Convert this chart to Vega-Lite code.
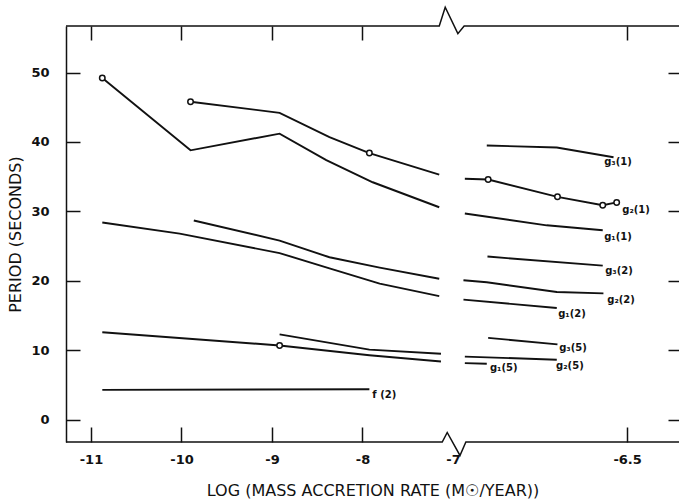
{
  "$schema": "https://vega.github.io/schema/vega-lite/v6.json",
  "width": 613,
  "height": 416,
  "autosize": "none",
  "padding": {"left": 66, "top": 26, "right": 0, "bottom": 59},
  "background": "white",
  "config": {
    "view": {"stroke": null},
    "axis": {
      "grid": false,
      "labelFont": "DejaVu Sans",
      "labelFontWeight": "bold",
      "labelFontSize": 13,
      "labelColor": "#111",
      "titleFont": "DejaVu Sans",
      "titleFontWeight": "normal",
      "titleColor": "#111",
      "tickColor": "#111",
      "domainColor": "#111",
      "tickWidth": 1.5,
      "domainWidth": 1.5
    }
  },
  "datasets": {
    "curves": [
      {"s": "A", "x": -10.875, "y": 49.2}, {"s": "A", "x": -9.9, "y": 38.8}, {"s": "A", "x": -8.916, "y": 41.2}, {"s": "A", "x": -8.4, "y": 37.4}, {"s": "A", "x": -7.887, "y": 34.2}, {"s": "A", "x": -7.152, "y": 30.6},
      {"s": "B", "x": -9.9, "y": 45.8}, {"s": "B", "x": -8.916, "y": 44.2}, {"s": "B", "x": -8.365, "y": 40.7}, {"s": "B", "x": -7.924, "y": 38.4}, {"s": "B", "x": -7.152, "y": 35.3},
      {"s": "C", "x": -10.875, "y": 28.4}, {"s": "C", "x": -10.02, "y": 26.8}, {"s": "C", "x": -8.916, "y": 24.0}, {"s": "C", "x": -8.365, "y": 21.8}, {"s": "C", "x": -7.81, "y": 19.6}, {"s": "C", "x": -7.152, "y": 17.8},
      {"s": "D", "x": -9.864, "y": 28.7}, {"s": "D", "x": -8.916, "y": 25.8}, {"s": "D", "x": -8.365, "y": 23.4}, {"s": "D", "x": -7.81, "y": 21.9}, {"s": "D", "x": -7.152, "y": 20.3},
      {"s": "E", "x": -10.875, "y": 12.6}, {"s": "E", "x": -8.916, "y": 10.7}, {"s": "E", "x": -7.924, "y": 9.3}, {"s": "E", "x": -7.133, "y": 8.4},
      {"s": "F", "x": -8.916, "y": 12.3}, {"s": "F", "x": -7.924, "y": 10.1}, {"s": "F", "x": -7.133, "y": 9.5},
      {"s": "f2", "x": -10.875, "y": 4.3}, {"s": "f2", "x": -7.924, "y": 4.4},
      {"s": "g3_1", "x": -6.903, "y": 39.5}, {"s": "g3_1", "x": -6.702, "y": 39.2}, {"s": "g3_1", "x": -6.539, "y": 37.8},
      {"s": "g2_1", "x": -6.966, "y": 34.7}, {"s": "g2_1", "x": -6.899, "y": 34.6}, {"s": "g2_1", "x": -6.7, "y": 32.1}, {"s": "g2_1", "x": -6.57, "y": 30.9}, {"s": "g2_1", "x": -6.53, "y": 31.3},
      {"s": "g1_1", "x": -6.966, "y": 29.7}, {"s": "g1_1", "x": -6.731, "y": 28.0}, {"s": "g1_1", "x": -6.57, "y": 27.3},
      {"s": "g3_2", "x": -6.901, "y": 23.5}, {"s": "g3_2", "x": -6.57, "y": 22.2},
      {"s": "g2_2", "x": -6.97, "y": 20.1}, {"s": "g2_2", "x": -6.903, "y": 19.8}, {"s": "g2_2", "x": -6.702, "y": 18.4}, {"s": "g2_2", "x": -6.568, "y": 18.2},
      {"s": "g1_2", "x": -6.97, "y": 17.3}, {"s": "g1_2", "x": -6.702, "y": 16.1},
      {"s": "g3_5", "x": -6.899, "y": 11.8}, {"s": "g3_5", "x": -6.7, "y": 10.85},
      {"s": "g2_5", "x": -6.966, "y": 9.1}, {"s": "g2_5", "x": -6.702, "y": 8.65},
      {"s": "g1_5", "x": -6.966, "y": 8.15}, {"s": "g1_5", "x": -6.903, "y": 8.07}
    ],
    "circles": [
      {"x": -10.875, "y": 49.2}, {"x": -9.9, "y": 45.8}, {"x": -7.924, "y": 38.4}, {"x": -8.916, "y": 10.7},
      {"x": -6.899, "y": 34.6}, {"x": -6.7, "y": 32.1}, {"x": -6.57, "y": 30.9}, {"x": -6.53, "y": 31.3}
    ],
    "frame": [
      {"side": "bottom", "x": -11.276, "y": -3.2}, {"side": "bottom", "x": -7.119, "y": -3.2}, {"side": "bottom", "x": -7.064, "y": -1.83}, {"side": "bottom", "x": -6.98, "y": -5.14}, {"side": "bottom", "x": -6.963, "y": -3.2}, {"side": "bottom", "x": -6.351, "y": -3.2},
      {"side": "top", "x": -11.276, "y": 56.7}, {"side": "top", "x": -7.152, "y": 56.7}, {"side": "top", "x": -7.086, "y": 59.4}, {"side": "top", "x": -6.986, "y": 55.6}, {"side": "top", "x": -6.968, "y": 56.7}, {"side": "top", "x": -6.351, "y": 56.7}
    ],
    "labels": [
      {"t": "g₃(1)", "x": -6.566, "y": 37.1},
      {"t": "g₂(1)", "x": -6.514, "y": 30.2},
      {"t": "g₁(1)", "x": -6.566, "y": 26.3},
      {"t": "g₃(2)", "x": -6.563, "y": 21.4},
      {"t": "g₂(2)", "x": -6.557, "y": 17.2},
      {"t": "g₁(2)", "x": -6.698, "y": 15.2},
      {"t": "g₃(5)", "x": -6.695, "y": 10.3},
      {"t": "g₂(5)", "x": -6.704, "y": 7.8},
      {"t": "g₁(5)", "x": -6.894, "y": 7.4},
      {"t": "f (2)", "x": -7.891, "y": 3.5}
    ]
  },
  "layer": [
    {
      "data": {"name": "curves"},
      "mark": {"type": "line", "color": "#111", "strokeWidth": 1.9},
      "encoding": {
        "x": {
          "field": "x", "type": "quantitative",
          "scale": {"domain": [-11.276, -7, -6.351], "range": [0, 387, 613], "nice": false, "zero": false},
          "axis": {
            "orient": "bottom",
            "values": [-11, -10, -9, -8, -7, -6.5],
            "labelExpr": "'' + datum.value",
            "domain": false,
            "tickSize": -15,
            "tickOpacity": {"condition": {"test": "datum.value == -7", "value": 0}, "value": 1},
            "labelPadding": 26,
            "title": "LOG (MASS ACCRETION RATE (M☉/YEAR))",
            "titleFontSize": 16,
            "titlePadding": 16
          }
        },
        "y": {
          "field": "y", "type": "quantitative",
          "scale": {"domain": [-3.2, 56.7], "nice": false, "zero": false},
          "axis": {
            "orient": "left",
            "values": [0, 10, 20, 30, 40, 50],
            "tickSize": -14,
            "labelPadding": 31,
            "title": "PERIOD (SECONDS)",
            "titleFontSize": 16,
            "titlePadding": 7
          }
        },
        "detail": {"field": "s"}
      }
    },
    {
      "data": {"name": "frame"},
      "mark": {"type": "line", "color": "#111", "strokeWidth": 1.5},
      "encoding": {
        "x": {
          "field": "x", "type": "quantitative",
          "scale": {"domain": [-11.276, -7, -6.351], "range": [0, 387, 613], "nice": false, "zero": false},
          "axis": {"orient": "top", "values": [-11, -10, -9, -8, -6.5], "labels": false, "domain": false, "tickSize": -14, "title": null}
        },
        "y": {
          "field": "y", "type": "quantitative",
          "scale": {"domain": [-3.2, 56.7], "nice": false, "zero": false},
          "axis": {"orient": "right", "values": [0, 10, 20, 30, 40, 50], "labels": false, "domain": false, "tickSize": -11, "title": null}
        },
        "detail": {"field": "side"}
      }
    },
    {
      "data": {"name": "circles"},
      "mark": {"type": "point", "shape": "circle", "filled": true, "fill": "white", "stroke": "#111", "strokeWidth": 1.5, "size": 30, "opacity": 1},
      "encoding": {
        "x": {"field": "x", "type": "quantitative", "axis": null},
        "y": {"field": "y", "type": "quantitative", "axis": null}
      }
    },
    {
      "data": {"name": "labels"},
      "mark": {"type": "text", "align": "left", "baseline": "middle", "font": "DejaVu Sans", "fontWeight": "bold", "fontSize": 10, "color": "#111"},
      "encoding": {
        "x": {"field": "x", "type": "quantitative", "axis": null},
        "y": {"field": "y", "type": "quantitative", "axis": null},
        "text": {"field": "t"}
      }
    }
  ],
  "resolve": {"axis": {"x": "independent", "y": "independent"}}
}
